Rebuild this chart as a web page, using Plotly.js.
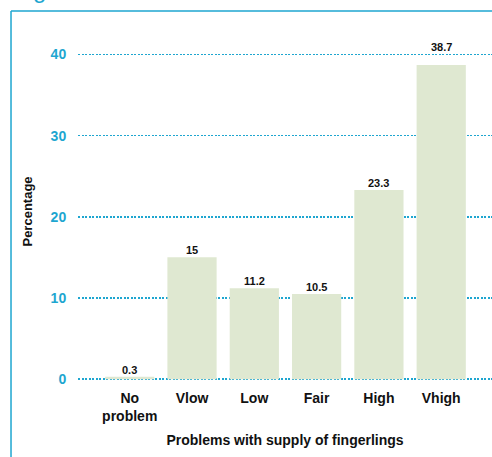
<!DOCTYPE html>
<html>
<head>
<meta charset="utf-8">
<script src="https://cdn.plot.ly/plotly-3.0.1.min.js"></script>
<style>html,body{margin:0;padding:0;background:#fff;}#chart{width:492px;height:457px;}</style>
</head>
<body>
<div id="chart"></div>
<script>
var categories = ["No<br>problem", "Vlow", "Low", "Fair", "High", "Vhigh"];
var percentages = [0.3, 15, 11.2, 10.5, 23.3, 38.7];
var valueLabels = ["0.3", "15", "11.2", "10.5", "23.3", "38.7"];
var yTicks = [0, 10, 20, 30, 40];

var teal = "#1ea6d0";
var xIdx = categories.map(function(c, i){ return i; });
var maxVal = Math.max.apply(null, percentages);

var trace = {
  type: "bar",
  x: xIdx,
  y: percentages,
  marker: {color: "#dfe8d1", line: {width: 0}},
  hoverinfo: "none"
};

var labelAnns = percentages.map(function(v, i){
  return {
    x: i, y: v, xref: "x", yref: "y",
    text: valueLabels[i], showarrow: false,
    xanchor: "center", yanchor: "bottom",
    yshift: (v === maxVal) ? 10 : -1,
    font: {family: "Liberation Sans, Arial, sans-serif", size: 11, color: "#111", weight: "bold"}
  };
});

var layout = {
  width: 492, height: 457,
  margin: {l: 78, r: 0, t: 39, b: 73},
  paper_bgcolor: "#ffffff", plot_bgcolor: "#ffffff",
  showlegend: false,
  bargap: 0.21,
  font: {family: "Liberation Sans, Arial, sans-serif"},
  xaxis: {
    range: [-0.83, 5.815],
    tickmode: "array",
    tickvals: xIdx,
    ticktext: categories,
    showgrid: false, zeroline: false, showline: false,
    ticks: "outside", ticklen: 1, tickcolor: "rgba(0,0,0,0)",
    tickfont: {size: 14, color: "#111", weight: "bold"},
    title: {text: "Problems with supply of fingerlings", font: {size: 14, color: "#111", weight: "bold"}, standoff: 12}
  },
  yaxis: {
    range: [-0.6, 41.9],
    tickmode: "array",
    tickvals: yTicks,
    showgrid: true, gridcolor: teal, gridwidth: 1.5, griddash: "2px,1.5px",
    zeroline: false, showline: false,
    ticks: "outside", ticklen: 8, tickcolor: "rgba(0,0,0,0)",
    tickfont: {size: 14, color: teal, weight: "bold"},
    title: {text: "Percentage", font: {size: 13, color: "#111", weight: "bold"}, standoff: 15}
  },
  shapes: [
    {type: "line", xref: "paper", yref: "paper", x0: -0.1618, x1: -0.1618, y0: 1.0812, y1: -0.3, line: {color: teal, width: 1.5}},
    {type: "line", xref: "paper", yref: "paper", x0: -0.1618, x1: 1.2, y0: 1.0812, y1: 1.0812, line: {color: teal, width: 1.5}}
  ],
  annotations: labelAnns.concat([
    {xref: "paper", yref: "paper", x: -0.0918, y: 1.0986, xanchor: "center", yanchor: "bottom", text: "g", showarrow: false,
     font: {size: 24, color: teal, family: "Liberation Sans, Arial, sans-serif"}}
  ])
};

Plotly.newPlot("chart", [trace], layout, {displayModeBar: false, staticPlot: true});
</script>
</body>
</html>
